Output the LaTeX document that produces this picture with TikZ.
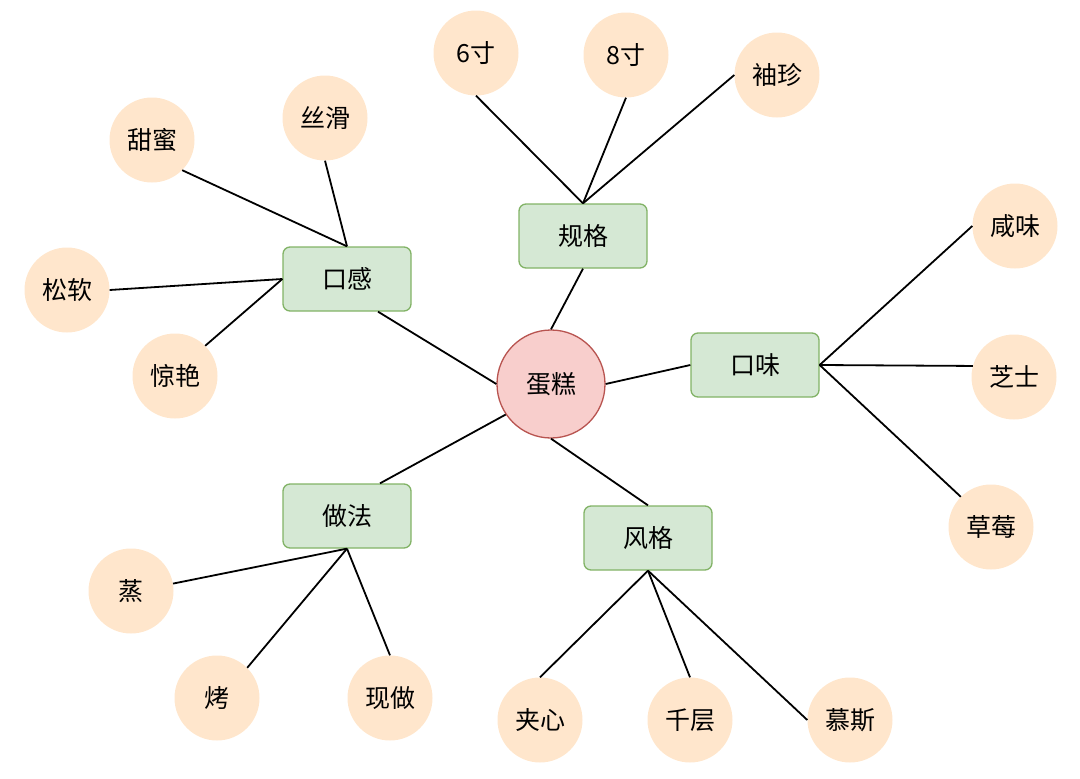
\documentclass[tikz,border=0pt]{standalone}
\usepackage{fontspec}
\setmainfont{Noto Sans CJK SC}
\definecolor{leafFill}{HTML}{FFE6CC}
\definecolor{branchFill}{HTML}{D5E8D4}
\definecolor{branchLine}{HTML}{82B366}
\definecolor{rootFill}{HTML}{F8CECC}
\definecolor{rootLine}{HTML}{B85450}
\begin{document}
\begin{tikzpicture}[x = 1pt, y = -1pt,
	every node/.style = {font = \fontsize{25}{29}\selectfont},
	leaf/.style = {circle, fill = leafFill, minimum size = 85pt, inner sep = 0pt},
	branch/.style = {rectangle, rounded corners = 7pt, draw = branchLine, fill = branchFill, line width = 1.3pt, minimum width = 128pt, minimum height = 64pt},
	root/.style = {circle, draw = rootLine, fill = rootFill, line width = 1.3pt, minimum size = 108pt},
	link/.style = {line width = 1.8pt}]
	 \useasboundingbox (0, 0) rectangle (1080, 779);
	 
	 \node[root] (cake) at (551, 384) {蛋糕};
	 
	 \node[branch] (mouthfeel) at (347, 279) {口感};
	 \node[branch] (size) at (583, 236) {规格};
	 \node[branch] (flavor) at (755, 365) {口味};
	 \node[branch] (method) at (347, 516) {做法};
	 \node[branch] (kind) at (648, 538) {风格};
	 
	 \node[leaf] (sweet) at (152, 140) {甜蜜};
	 \node[leaf] (silky) at (325, 118) {丝滑};
	 \node[leaf] (fluffy) at (67, 290) {松软};
	 \node[leaf] (stunning) at (175, 376) {惊艳};
	 
	 \node[leaf] (six) at (476, 53) {6寸};
	 \node[leaf] (eight) at (626, 55) {8寸};
	 \node[leaf] (mini) at (777, 75) {袖珍};
	 
	 \node[leaf] (salty) at (1015, 226) {咸味};
	 \node[leaf] (cheese) at (1014, 377) {芝士};
	 \node[leaf] (berry) at (991, 527) {草莓};
	 
	 \node[leaf] (steam) at (131, 591) {蒸};
	 \node[leaf] (bake) at (217, 698) {烤};
	 \node[leaf] (fresh) at (390, 698) {现做};
	 
	 \node[leaf] (filled) at (540, 720) {夹心};
	 \node[leaf] (layer) at (690, 720) {千层};
	 \node[leaf] (mousse) at (850, 720) {慕斯};
	 
	 \draw[link] ([xshift = 31pt]mouthfeel.south) -- (cake.west);
	 \draw[link] (size.south) -- (cake.north);
	 \draw[link] (cake.east) -- (flavor.west);
	 \draw[link] (cake.214) -- ([xshift = 33pt]method.north);
	 \draw[link] (cake.south) -- (kind.north);
	 
	 \draw[link] (mouthfeel.north) -- (sweet.south east);
	 \draw[link] (mouthfeel.north) -- (silky.south);
	 \draw[link] (mouthfeel.west) -- (fluffy.east);
	 \draw[link] (mouthfeel.west) -- (stunning.north east);
	 
	 \draw[link] (size.north) -- (six.south);
	 \draw[link] (size.north) -- (eight.south);
	 \draw[link] (size.north) -- (mini.west);
	 
	 \draw[link] (flavor.east) -- (salty.west);
	 \draw[link] (flavor.east) -- (cheese.165);
	 \draw[link] (flavor.east) -- (berry.north west);
	 
	 \draw[link] (method.south) -- (steam.10);
	 \draw[link] (method.south) -- (bake.north east);
	 \draw[link] (method.south) -- (fresh.north);
	 
	 \draw[link] (kind.south) -- (filled.north);
	 \draw[link] (kind.south) -- (layer.north);
	 \draw[link] (kind.south) -- (mousse.west);
\end{tikzpicture}
\end{document}
